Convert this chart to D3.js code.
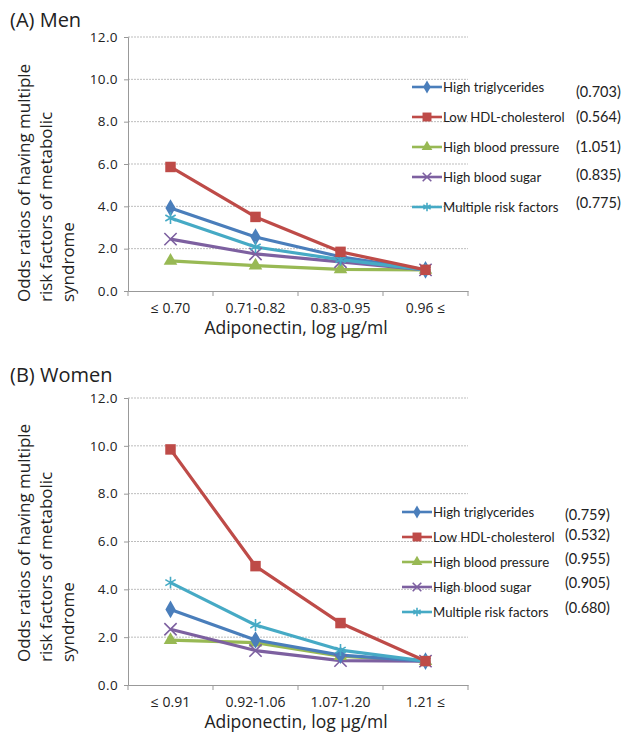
<!DOCTYPE html>
<html><head><meta charset="utf-8">
<script src="https://cdn.jsdelivr.net/npm/d3@7"></script>
<style>body{margin:0;background:#fff}svg{display:block}text{font-family:"Open Sans",Lato,sans-serif;fill:#222}</style>
</head><body><svg id="c" width="632" height="736"></svg>
<script>
const seriesNames = ["High triglycerides","Low HDL-cholesterol","High blood pressure","High blood sugar","Multiple risk factors"];
const seriesColors = ["#4A7EBB","#BE4B48","#98B954","#7D60A0","#46AAC5"];
const seriesSymbols = ["diamond","square","triangle","cross","star"];
const yTicks = [0,2,4,6,8,10,12];

const menCategories = ["\u2264 0.70","0.71-0.82","0.83-0.95","0.96 \u2264"];
const menTG   = [3.92,2.55,1.62,1.0];
const menHDL  = [5.86,3.50,1.85,1.0];
const menBP   = [1.42,1.20,1.02,1.0];
const menBS   = [2.45,1.75,1.38,1.0];
const menMR   = [3.45,2.08,1.48,1.0];
const menP    = ["(0.703)","(0.564)","(1.051)","(0.835)","(0.775)"];

const womenCategories = ["\u2264 0.91","0.92-1.06","1.07-1.20","1.21 \u2264"];
const womenTG  = [3.16,1.88,1.25,1.0];
const womenHDL = [9.85,4.97,2.59,1.0];
const womenBP  = [1.88,1.77,1.21,1.0];
const womenBS  = [2.33,1.44,1.02,1.0];
const womenMR  = [4.28,2.51,1.46,1.0];
const womenP   = ["(0.759)","(0.532)","(0.955)","(0.905)","(0.680)"];

const svg = d3.select("#c");

function panel(o){
  const g = svg.append("g");
  const x = d3.scaleBand().domain(o.categories).range([128,468]);
  const y = d3.scaleLinear().domain([0,12]).range([o.y0,o.y1]);
  g.append("text").attr("x",10).attr("y",o.titleY).attr("font-size",20).text(o.title);
  g.selectAll(".grid").data(yTicks.slice(1)).join("line")
    .attr("x1",128).attr("x2",468).attr("y1",d=>y(d)).attr("y2",d=>y(d))
    .attr("stroke","#bdbdbd").attr("stroke-width",1).attr("stroke-dasharray","2,1");
  const ya = g.append("g").attr("transform","translate(128,0)")
    .call(d3.axisLeft(y).tickValues(yTicks).tickFormat(d3.format(".1f")).tickSize(4).tickPadding(6));
  ya.select(".domain").attr("stroke","#999");
  ya.selectAll(".tick line").attr("stroke","#999");
  ya.selectAll("text").attr("font-size",13.5).attr("fill","#333").attr("letter-spacing",0.4).style("font-family","'Open Sans',sans-serif");
  const xa = g.append("g").attr("transform",`translate(0,${o.y0})`)
    .call(d3.axisBottom(x).tickSize(0).tickPadding(12));
  xa.select(".domain").attr("stroke","#999");
  xa.selectAll("text").attr("font-size",14).attr("fill","#333").style("font-family","'Open Sans',sans-serif");
  const bounds = [128, ...o.categories.map(c=>x(c)+x.bandwidth())];
  g.selectAll(".xt").data(bounds).join("line")
    .attr("x1",d=>d).attr("x2",d=>d).attr("y1",o.y0).attr("y2",o.y0+5).attr("stroke","#999");
  g.append("text").attr("x",296).attr("y",o.y0+43).attr("text-anchor","middle").attr("font-size",17.5).text("Adiponectin, log \u00b5g/ml");
  const yt = ["Odds ratios of having multiple","risk factors of metabolic","syndrome"];
  yt.forEach((t,i)=>{
    g.append("text").attr("transform",`translate(${30+i*22},${o.yTitleBottom}) rotate(-90)`)
      .attr("font-size",17).text(t);
  });
  const line = d3.line().x((d,i)=>x(o.categories[i])+x.bandwidth()/2).y(d=>y(d));
  const sym = {diamond:d3.symbolDiamond,square:d3.symbolSquare,triangle:d3.symbolTriangle,cross:d3.symbolTimes,star:d3.symbolAsterisk};
  function marker(sel,k,c,size){
    const s = sym[seriesSymbols[k]];
    const isStroke = seriesSymbols[k]==="cross"||seriesSymbols[k]==="star";
    sel.attr("d",d3.symbol().type(s).size(size))
      .attr("fill",isStroke?"none":c).attr("stroke",isStroke?c:"none").attr("stroke-width",1.6);
  }
  const order=[2,3,0,4,1];
  order.forEach(k=>{
    g.append("path").datum(o.data[k]).attr("d",line).attr("fill","none")
      .attr("stroke",seriesColors[k]).attr("stroke-width",3.2).attr("stroke-linejoin","round");
  });
  order.forEach(k=>{
    const c=seriesColors[k];
    const sz = seriesSymbols[k]==="square"?110:seriesSymbols[k]==="diamond"?90:seriesSymbols[k]==="triangle"?80:100;
    g.selectAll(null).data(o.data[k]).join("path")
      .attr("transform",(d,i)=>`translate(${x(o.categories[i])+x.bandwidth()/2},${y(d)})`)
      .call(marker,k,c,sz);
  });
  seriesNames.forEach((n,k)=>{
    const ly=o.legY[k], c=seriesColors[k];
    g.append("line").attr("x1",o.legX).attr("x2",o.legX+30).attr("y1",ly).attr("y2",ly).attr("stroke",c).attr("stroke-width",2.6);
    g.append("path").attr("transform",`translate(${o.legX+15},${ly})`).call(marker,k,c,seriesSymbols[k]==="square"?80:50);
    g.append("text").attr("x",o.legX+31).attr("y",ly+4.5).attr("font-size",13.2).style("font-family","Lato,sans-serif").text(n);
    g.append("text").attr("x",o.pX).attr("y",o.pY[k]+4.5).attr("font-size",14.5).style("font-family","Lato,sans-serif").text(o.p[k]);
  });
}

panel({title:"(A) Men",titleY:27,categories:menCategories,y0:291,y1:37,yTitleBottom:302,
  data:[menTG,menHDL,menBP,menBS,menMR],p:menP,
  legX:412,legY:[87,117,147,177,207],pX:576,pY:[92,117,147,175,203]});
panel({title:"(B) Women",titleY:382,categories:womenCategories,y0:685,y1:398,yTitleBottom:662,
  data:[womenTG,womenHDL,womenBP,womenBS,womenMR],p:womenP,
  legX:402,legY:[512,537,562,587,612],pX:565,pY:[515,535,559,583,608]});
</script></body></html>
